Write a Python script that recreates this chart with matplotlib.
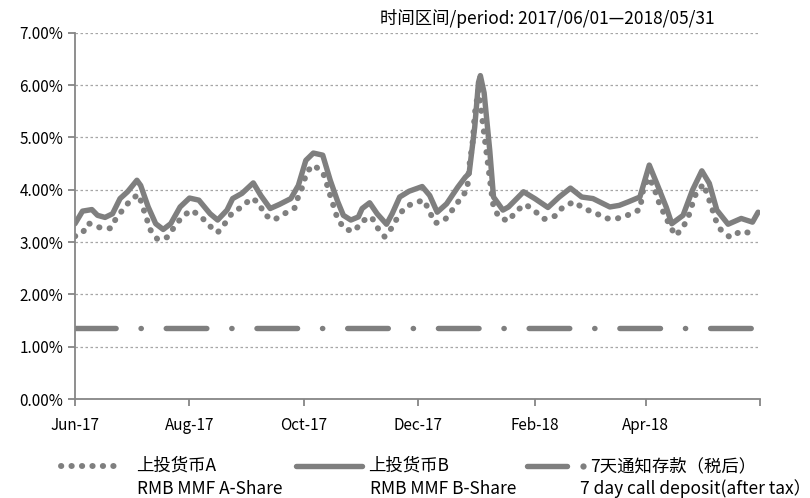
import numpy as np
import pandas as pd
import matplotlib
matplotlib.use("Agg")
import matplotlib.pyplot as plt
from matplotlib.lines import Line2D
from matplotlib.ticker import PercentFormatter

plt.rcParams['font.family'] = ['Noto Sans CJK SC', 'DejaVu Sans']

GRAY = "#7f7f7f"

# 上投货币B (solid)
b_dates = ["2017-06-01", "2017-06-05", "2017-06-10", "2017-06-13", "2017-06-17",
           "2017-06-21", "2017-06-25", "2017-06-29", "2017-07-04", "2017-07-06",
           "2017-07-10", "2017-07-14", "2017-07-18", "2017-07-22", "2017-07-27",
           "2017-08-01", "2017-08-06", "2017-08-12", "2017-08-16", "2017-08-21",
           "2017-08-24", "2017-08-29", "2017-09-04", "2017-09-08", "2017-09-13",
           "2017-09-18", "2017-09-24", "2017-09-28", "2017-10-02", "2017-10-06",
           "2017-10-11", "2017-10-15", "2017-10-19", "2017-10-22", "2017-10-26",
           "2017-10-30", "2017-11-01", "2017-11-05", "2017-11-09", "2017-11-14",
           "2017-11-17", "2017-11-21", "2017-11-26", "2017-12-03", "2017-12-07",
           "2017-12-11", "2017-12-16", "2017-12-22", "2017-12-26", "2017-12-28",
           "2017-12-31", "2018-01-02", "2018-01-03", "2018-01-05", "2018-01-08",
           "2018-01-10", "2018-01-15", "2018-01-18", "2018-01-26", "2018-02-01",
           "2018-02-08", "2018-02-14", "2018-02-20", "2018-02-26", "2018-03-04",
           "2018-03-13", "2018-03-18", "2018-03-23", "2018-03-29", "2018-04-03",
           "2018-04-07", "2018-04-12", "2018-04-15", "2018-04-21", "2018-04-26",
           "2018-05-01", "2018-05-05", "2018-05-09", "2018-05-15", "2018-05-22",
           "2018-05-28", "2018-05-31"]
b_vals = [3.35, 3.59, 3.62, 3.51, 3.47, 3.54, 3.83, 3.96, 4.18, 4.08,
          3.67, 3.35, 3.24, 3.35, 3.67, 3.84, 3.80, 3.54, 3.42, 3.61,
          3.83, 3.93, 4.13, 3.89, 3.64, 3.72, 3.83, 4.08, 4.56, 4.70,
          4.66, 4.18, 3.77, 3.51, 3.42, 3.48, 3.64, 3.75, 3.54, 3.34,
          3.54, 3.86, 3.97, 4.06, 3.89, 3.57, 3.73, 4.05, 4.24, 4.31,
          5.20, 6.05, 6.18, 5.85, 4.75, 3.86, 3.61, 3.67, 3.96, 3.83,
          3.66, 3.86, 4.03, 3.86, 3.83, 3.67, 3.70, 3.77, 3.86, 4.47,
          4.12, 3.67, 3.35, 3.51, 3.99, 4.36, 4.12, 3.61, 3.34, 3.45,
          3.38, 3.57]

# 上投货币A (dotted)
a_dates = ["2017-06-01", "2017-06-05", "2017-06-08", "2017-06-14", "2017-06-20",
           "2017-06-23", "2017-06-27", "2017-07-01", "2017-07-05", "2017-07-07",
           "2017-07-09", "2017-07-11", "2017-07-15", "2017-07-20", "2017-07-24",
           "2017-07-28", "2017-08-02", "2017-08-07", "2017-08-12", "2017-08-16",
           "2017-08-20", "2017-08-24", "2017-08-29", "2017-09-03", "2017-09-07",
           "2017-09-10", "2017-09-15", "2017-09-20", "2017-09-26", "2017-09-28",
           "2017-10-01", "2017-10-02", "2017-10-06", "2017-10-11", "2017-10-13",
           "2017-10-15", "2017-10-17", "2017-10-19", "2017-10-23", "2017-10-28",
           "2017-11-01", "2017-11-06", "2017-11-09", "2017-11-13", "2017-11-17",
           "2017-11-20", "2017-11-24", "2017-11-29", "2017-12-04", "2017-12-07",
           "2017-12-10", "2017-12-15", "2017-12-19", "2017-12-23", "2017-12-27",
           "2017-12-28", "2017-12-30", "2017-12-31", "2018-01-02", "2018-01-03",
           "2018-01-05", "2018-01-07", "2018-01-09", "2018-01-10", "2018-01-13",
           "2018-01-18", "2018-01-22", "2018-01-27", "2018-02-01", "2018-02-06",
           "2018-02-12", "2018-02-16", "2018-02-22", "2018-02-27", "2018-03-05",
           "2018-03-11", "2018-03-17", "2018-03-23", "2018-03-29", "2018-03-31",
           "2018-04-03", "2018-04-06", "2018-04-08", "2018-04-11", "2018-04-14",
           "2018-04-17", "2018-04-21", "2018-04-24", "2018-04-26", "2018-04-28",
           "2018-05-02", "2018-05-04", "2018-05-06", "2018-05-08", "2018-05-11",
           "2018-05-16", "2018-05-22", "2018-05-28"]
a_vals = [3.11, 3.17, 3.36, 3.28, 3.26, 3.46, 3.64, 3.82, 3.91, 3.68,
          3.47, 3.24, 3.05, 3.09, 3.29, 3.48, 3.61, 3.49, 3.30, 3.18,
          3.36, 3.57, 3.67, 3.84, 3.75, 3.52, 3.42, 3.53, 3.65, 3.87,
          4.12, 4.32, 4.47, 4.34, 4.13, 3.89, 3.66, 3.43, 3.24, 3.21,
          3.40, 3.48, 3.28, 3.10, 3.28, 3.48, 3.67, 3.75, 3.80, 3.57,
          3.36, 3.42, 3.61, 3.81, 4.00, 4.43, 4.94, 5.45, 5.90, 5.64,
          5.07, 4.50, 3.93, 3.67, 3.47, 3.40, 3.59, 3.72, 3.59, 3.44,
          3.50, 3.67, 3.77, 3.64, 3.56, 3.45, 3.45, 3.52, 3.62, 4.05,
          4.23, 3.99, 3.77, 3.53, 3.31, 3.12, 3.28, 3.50, 3.73, 3.94,
          4.11, 3.89, 3.70, 3.45, 3.24, 3.09, 3.21, 3.16]

# 7天通知存款（税后）
c_dates = ["2017-06-01", "2018-05-31"]
c_vals = [1.35, 1.35]

x_ticks = ["2017-06-01", "2017-08-01", "2017-10-01", "2017-12-01",
           "2018-02-01", "2018-04-01", "2018-06-01"]
x_labels = ["Jun-17", "Aug-17", "Oct-17", "Dec-17", "Feb-18", "Apr-18", ""]

labels_cn = ["上投货币A", "上投货币B", "7天通知存款（税后）"]
labels_en = ["RMB MMF A-Share", "RMB MMF B-Share", "7 day call deposit(after tax）"]

# dash patterns (in units of line width)
DOTS = (0.05, 1.7)
DASH_DOT = (7.5, 4.6, 0.05, 4.6)

fig = plt.figure(figsize=(8.1, 4.98), dpi=100)
ax = fig.add_axes([75 / 810, 1 - 399 / 498, 685 / 810, 366.3 / 498])

ax.plot(pd.to_datetime(a_dates), a_vals, color=GRAY, lw=4.3,
        dashes=DOTS, dash_capstyle="round", dash_joinstyle="round")
ax.plot(pd.to_datetime(b_dates), b_vals, color=GRAY, lw=3.9,
        solid_joinstyle="round", solid_capstyle="round")
ax.plot(pd.to_datetime(c_dates), c_vals, color=GRAY, lw=3.9,
        dashes=DASH_DOT, dash_capstyle="round")

ax.set_ylim(0, 7)
ax.set_yticks(np.arange(0, 8, 1))
ax.yaxis.set_major_formatter(PercentFormatter(decimals=2))
ax.set_xlim(pd.Timestamp("2017-06-01"), pd.Timestamp("2018-06-01"))
ax.set_xticks(pd.to_datetime(x_ticks))
ax.set_xticklabels(x_labels)

ax.grid(axis="y", color="#a6a6a6", lw=0.9, linestyle=(0, (2, 2)))
ax.set_axisbelow(True)
for s in ["top", "right"]:
    ax.spines[s].set_visible(False)
for s in ["left", "bottom"]:
    ax.spines[s].set_color("#868686")
    ax.spines[s].set_linewidth(1.3)
ax.tick_params(axis="both", colors="#868686", length=5, width=1.3,
               labelcolor="black", labelsize=11)
ax.tick_params(axis="x", pad=8)

fig.text(715 / 810, 1 - 18 / 498, "时间区间/period: 2017/06/01—2018/05/31",
         ha="right", va="center", fontsize=12.5)

# legend, drawn by hand: handle on the Chinese row, English line under it
row1 = 1 - 466 / 498
row2 = 1 - 489 / 498
fig.add_artist(Line2D([61 / 810, 120 / 810], [row1, row1], transform=fig.transFigure,
                      color=GRAY, lw=4.3, dashes=DOTS, dash_capstyle="round"))
fig.add_artist(Line2D([296 / 810, 362 / 810], [row1, row1], transform=fig.transFigure,
                      color=GRAY, lw=3.9, solid_capstyle="round"))
fig.add_artist(Line2D([527 / 810, 567 / 810], [row1, row1], transform=fig.transFigure,
                      color=GRAY, lw=3.9, solid_capstyle="round"))
fig.add_artist(Line2D([583 / 810], [row1], transform=fig.transFigure,
                      color=GRAY, marker="o", ms=4.5, mew=0))
for x_cn, x_en, cn, en in zip([136, 368, 590], [137, 370, 580], labels_cn, labels_en):
    fig.text(x_cn / 810, row1, cn, ha="left", va="center", fontsize=12.5)
    fig.text(x_en / 810, row2, en, ha="left", va="center", fontsize=12.5)

fig.savefig("out.png", dpi=100)
